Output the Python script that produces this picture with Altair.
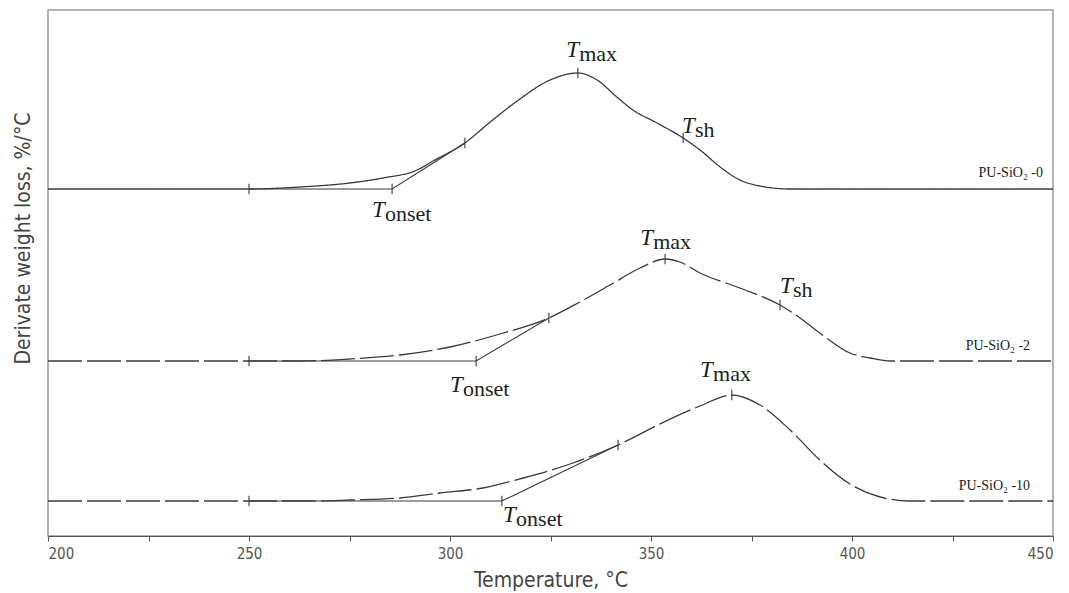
import altair as alt
import pandas as pd

# ---- data ----
series_names = ["PU-SiO\u2082 -0", "PU-SiO\u2082 -2", "PU-SiO\u2082 -10"]
offsets = [6.94, 3.5, 0.7]

T0 = [200, 250, 262.7, 275.1, 283.3, 291.8, 295.8, 303.7, 310.0, 316.7, 324.9, 331.8,
      336.6, 341.5, 345.5, 351.5, 358.0, 362.2, 367.2, 372.1, 377.1, 384.6, 400, 450]
H0 = [0, 0, 0.04, 0.12, 0.22, 0.38, 0.56, 0.92, 1.34, 1.76, 2.18, 2.32,
      2.18, 1.84, 1.58, 1.32, 1.02, 0.78, 0.44, 0.18, 0.06, 0, 0, 0]

T2 = [200, 262.7, 275.1, 287.6, 300.0, 312.4, 324.6, 332.3, 339.8, 347.3, 353.5, 357.2,
      362.2, 372.1, 382.1, 387.1, 392.0, 399.5, 404.5, 409.5, 450]
H2 = [0, 0, 0.04, 0.12, 0.28, 0.54, 0.86, 1.18, 1.52, 1.86, 2.04, 1.98,
      1.76, 1.46, 1.12, 0.86, 0.56, 0.16, 0.06, 0, 0]

T10 = [200, 265, 275.1, 287.6, 297.5, 308.2, 318.2, 330.6, 341.8, 352.2, 362.2, 370.1,
       377.1, 384.6, 392.0, 399.5, 407.0, 414.4, 450]
H10 = [0, 0, 0.02, 0.06, 0.16, 0.26, 0.46, 0.76, 1.12, 1.54, 1.90, 2.12,
       1.92, 1.42, 0.82, 0.34, 0.08, 0, 0]

baseline_mark_T = 250
onset_T = [285.6, 306.5, 312.9]
infl_T = [303.7, 324.6, 341.8]
infl_H = [0.92, 0.86, 1.12]
max_T = [331.8, 353.5, 370.1]
max_H = [2.32, 2.04, 2.12]
sh_T = [358.0, 382.1]
sh_H = [1.02, 1.12]

# annotation labels: (subscript, x, y)
ann_sub = ["max", "onset", "sh", "max", "sh", "onset", "max", "onset"]
ann_x = [328.9, 280.6, 357.7, 347.3, 382.1, 300.0, 362.2, 313.2]
ann_y = [9.58, 6.38, 8.06, 5.82, 4.86, 2.88, 3.18, 0.28]

series_label_x = [447.5, 444.3, 444.3]
series_label_y = [7.18, 3.72, 0.92]

x_ticks = list(range(200, 451, 25))

# ---- build tables ----
curve_rows = []
for name, T, H, off in zip(series_names, [T0, T2, T10], [H0, H2, H10], offsets):
    for t, h in zip(T, H):
        curve_rows.append({"series": name, "T": t, "y": h + off})
curves = pd.DataFrame(curve_rows)

tan_rows = []
mark_rows = []
for i, (name, off) in enumerate(zip(series_names, offsets)):
    tan_rows += [
        {"series": name, "T": baseline_mark_T, "y": off, "o": 0},
        {"series": name, "T": onset_T[i], "y": off, "o": 1},
        {"series": name, "T": infl_T[i], "y": off + infl_H[i], "o": 2},
    ]
    mark_rows += [
        {"T": baseline_mark_T, "y": off},
        {"T": onset_T[i], "y": off},
        {"T": infl_T[i], "y": off + infl_H[i]},
        {"T": max_T[i], "y": off + max_H[i]},
    ]
for i in range(len(sh_T)):
    mark_rows.append({"T": sh_T[i], "y": offsets[i] + sh_H[i]})
tangents = pd.DataFrame(tan_rows)
marks = pd.DataFrame(mark_rows)

ann = pd.DataFrame({"T": ann_x, "y": ann_y, "sub": ann_sub, "main": ["T"] * len(ann_sub)})
slab = pd.DataFrame({"T": series_label_x, "y": series_label_y, "text": series_names})

xscale = alt.Scale(domain=[200, 450], nice=False, zero=False)
yscale = alt.Scale(domain=[0, 10.52], nice=False, zero=False)

xaxis = alt.Axis(values=x_ticks, labelExpr="datum.value % 50 == 0 ? datum.label : ''",
                 title="Temperature, \u00b0C", grid=False, tickSize=5, labelPadding=5,
                 titlePadding=8)
yaxis = alt.Axis(labels=False, ticks=False, domain=False, grid=False,
                 title="Derivate weight loss, %/\u00b0C", titlePadding=15, titleY=228)

X = alt.X("T:Q", scale=xscale, axis=xaxis)
Y = alt.Y("y:Q", scale=yscale, axis=yaxis)
Xn = alt.X("T:Q", scale=xscale)
Yn = alt.Y("y:Q", scale=yscale)

line_col = "#3a3a3a"

curve_layer = alt.Chart(curves).mark_line(interpolate="monotone", color=line_col, strokeWidth=1.3).encode(
    x=X, y=Y,
    strokeDash=alt.StrokeDash("series:N", scale=alt.Scale(domain=series_names,
                              range=[[1, 0], [34, 5], [34, 5]]), legend=None),
    detail="series:N",
)

tan_layer = alt.Chart(tangents).mark_line(color=line_col, strokeWidth=1.1).encode(
    x=Xn, y=Yn, detail="series:N", order="o:Q")

mark_layer = alt.Chart(marks).mark_point(shape="M0,-1L0,1", size=110, color=line_col,
                                         strokeWidth=1.1, filled=False, opacity=1).encode(x=Xn, y=Yn)

t_layer = alt.Chart(ann).mark_text(font="Liberation Serif", fontStyle="italic", fontSize=23,
                                   align="left", baseline="alphabetic", color="#222222").encode(
    x=Xn, y=Yn, text="main:N")
sub_layer = alt.Chart(ann).mark_text(font="Liberation Serif", fontSize=22, align="left",
                                     baseline="alphabetic", dx=13, dy=4, color="#222222").encode(
    x=Xn, y=Yn, text="sub:N")

slab_layer = alt.Chart(slab).mark_text(font="Liberation Serif", fontSize=14, align="right",
                                       baseline="alphabetic", color="#222222").encode(
    x=Xn, y=Yn, text="text:N")

axis_font = "DejaVu Sans Condensed, Roboto, sans-serif"

chart = alt.layer(curve_layer, tan_layer, mark_layer, t_layer, sub_layer, slab_layer).properties(
    width=1005, height=526,
    autosize=alt.AutoSizeParams(type="none"),
    padding={"left": 40, "top": 2, "right": 8, "bottom": 57},
).configure_view(
    stroke="#9a9a9a", strokeWidth=1.5
).configure_axis(
    domainColor="#555555", tickColor="#555555", labelColor="#555555",
    labelFont=axis_font, labelFontSize=15,
    titleFont=axis_font, titleFontSize=21, titleColor="#444444",
    titleFontWeight="normal",
)

chart.save("out.html", embed_options={"renderer": "svg", "actions": False})
